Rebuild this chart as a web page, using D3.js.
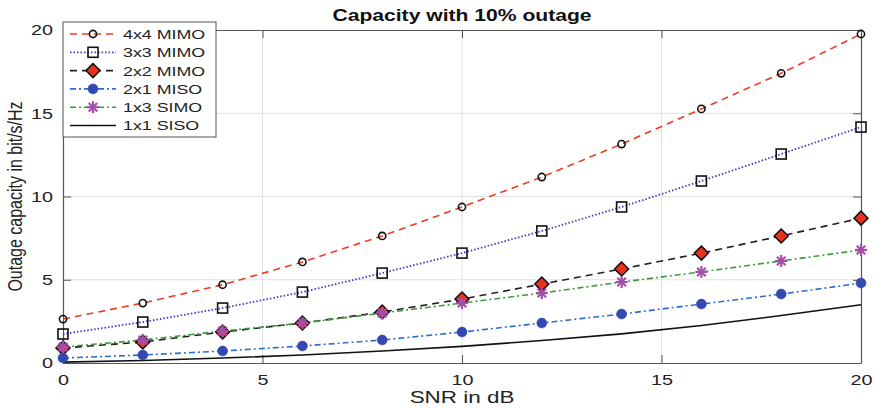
<!DOCTYPE html>
<html>
<head>
<meta charset="utf-8">
<script src="https://cdn.jsdelivr.net/npm/d3@7"></script>
<style>
  html, body { margin: 0; padding: 0; background: #fff; }
  svg { display: block; font-family: "Liberation Sans", Arial, sans-serif; }
</style>
</head>
<body>
<svg id="chart" width="874" height="408"></svg>
<script>
// SNR sweep in dB
const snr = [0, 2, 4, 6, 8, 10, 12, 14, 16, 18, 20];

// 10%-outage capacity in bit/s/Hz for each antenna configuration
const mimo4x4 = [2.64, 3.6, 4.7, 6.07, 7.63, 9.37, 11.17, 13.15, 15.26, 17.4, 19.76];
const mimo3x3 = [1.74, 2.46, 3.3, 4.26, 5.4, 6.6, 7.93, 9.37, 10.93, 12.55, 14.17];
const mimo2x2 = [0.9, 1.26, 1.86, 2.4, 3.06, 3.84, 4.74, 5.65, 6.6, 7.63, 8.7];
const miso2x1 = [0.3, 0.48, 0.72, 1.02, 1.38, 1.86, 2.4, 2.94, 3.54, 4.14, 4.8];
const simo1x3 = [0.96, 1.38, 1.92, 2.4, 3.0, 3.6, 4.2, 4.86, 5.47, 6.13, 6.79];
const siso1x1 = [0.05, 0.15, 0.3, 0.48, 0.72, 1.0, 1.35, 1.75, 2.25, 2.85, 3.5];

const seriesNames = ["4x4 MIMO", "3x3 MIMO", "2x2 MIMO", "2x1 MISO", "1x3 SIMO", "1x1 SISO"];
const seriesValues = [mimo4x4, mimo3x3, mimo2x2, miso2x1, simo1x3, siso1x1];

const xTicks = [0, 5, 10, 15, 20];
const yTicks = [0, 5, 10, 15, 20];

// line + marker styling per series
const styles = [
  { color: "#f03a22", dash: "7,5", width: 1.6, marker: "circle" },
  { color: "#3b3bc8", dash: "1.5,2", width: 1.8, marker: "square" },
  { color: "#222222", dash: "7,5", width: 1.6, marker: "diamond" },
  { color: "#2a6fd0", dash: "6,3,2,3", width: 1.6, marker: "dot" },
  { color: "#3d9a3d", dash: "6,3,2,3", width: 1.6, marker: "star" },
  { color: "#111111", dash: null, width: 1.6, marker: null }
];

// text is drawn slightly widened horizontally
const SX = 1.32;
const widen = (tx, ty) => `translate(${tx},${ty}) scale(${SX},1) translate(${-tx},${-ty})`;

const margin = { left: 63, right: 13, top: 30, bottom: 45 };
const W = 874, H = 408;
const iw = W - margin.left - margin.right;
const ih = H - margin.top - margin.bottom;

const svg = d3.select("#chart");
const g = svg.append("g").attr("transform", `translate(${margin.left},${margin.top})`);

const x = d3.scaleLinear().domain([0, 20]).range([0, iw]);
const y = d3.scaleLinear().domain([0, 20]).range([ih, 0]);

// grid
g.append("g").selectAll("line").data(xTicks.slice(1, -1)).join("line")
  .attr("x1", d => x(d)).attr("x2", d => x(d)).attr("y1", 0).attr("y2", ih)
  .attr("stroke", "#e2e2e2").attr("stroke-width", 1);
g.append("g").selectAll("line").data(yTicks.slice(1, -1)).join("line")
  .attr("y1", d => y(d)).attr("y2", d => y(d)).attr("x1", 0).attr("x2", iw)
  .attr("stroke", "#e2e2e2").attr("stroke-width", 1);

// axes (ticks pointing inward)
const xAxis = g.append("g").attr("transform", `translate(0,${ih})`)
  .call(d3.axisBottom(x).tickValues(xTicks).tickSizeInner(-8).tickSizeOuter(0).tickPadding(11));
const yAxis = g.append("g")
  .call(d3.axisLeft(y).tickValues(yTicks).tickSizeInner(-8).tickSizeOuter(0).tickPadding(10));
const xAxisTop = g.append("g")
  .call(d3.axisTop(x).tickValues(xTicks).tickSizeInner(-8).tickSizeOuter(0).tickFormat(""));
const yAxisRight = g.append("g").attr("transform", `translate(${iw},0)`)
  .call(d3.axisRight(y).tickValues(yTicks).tickSizeInner(-8).tickSizeOuter(0).tickFormat(""));

[xAxis, yAxis, xAxisTop, yAxisRight].forEach(a => {
  a.select(".domain").attr("stroke", "#555").attr("stroke-width", 1.2);
  a.selectAll(".tick line").attr("stroke", "#555");
  a.selectAll("text").attr("font-size", 15).attr("fill", "#222")
    .attr("font-family", "Liberation Sans, Arial, sans-serif");
});
xAxis.selectAll(".tick text").attr("transform", widen(0, 0));
yAxis.selectAll(".tick text").attr("transform", widen(-10, 0));

// lines
const line = d3.line().x((d, i) => x(snr[i])).y(d => y(d));
const plot = g.append("g");

function drawMarker(sel, type, cx, cy) {
  if (type === "circle") {
    sel.append("circle").attr("cx", cx).attr("cy", cy).attr("r", 3.6)
      .attr("fill", "none").attr("stroke", "#111").attr("stroke-width", 1.6);
  } else if (type === "square") {
    sel.append("rect").attr("x", cx - 5).attr("y", cy - 5).attr("width", 10).attr("height", 10)
      .attr("fill", "none").attr("stroke", "#111").attr("stroke-width", 1.6);
  } else if (type === "diamond") {
    sel.append("path").attr("d", `M${cx},${cy - 7}L${cx + 7},${cy}L${cx},${cy + 7}L${cx - 7},${cy}Z`)
      .attr("fill", "#e8321e").attr("stroke", "#111").attr("stroke-width", 1.5);
  } else if (type === "dot") {
    sel.append("circle").attr("cx", cx).attr("cy", cy).attr("r", 5)
      .attr("fill", "#3348b0").attr("stroke", "#3348b0").attr("stroke-width", 0.5);
  } else if (type === "star") {
    const r = 6;
    const gs = sel.append("g").attr("stroke", "#a54ea8").attr("stroke-width", 2.2);
    for (let k = 0; k < 4; k++) {
      const a = k * Math.PI / 4;
      gs.append("line")
        .attr("x1", cx - r * Math.cos(a)).attr("y1", cy - r * Math.sin(a))
        .attr("x2", cx + r * Math.cos(a)).attr("y2", cy + r * Math.sin(a));
    }
  }
}

seriesValues.forEach((vals, si) => {
  const st = styles[si];
  plot.append("path").datum(vals)
    .attr("d", line).attr("fill", "none")
    .attr("stroke", st.color).attr("stroke-width", st.width)
    .attr("stroke-dasharray", st.dash);
});
seriesValues.forEach((vals, si) => {
  const st = styles[si];
  if (!st.marker) return;
  const mg = plot.append("g");
  vals.forEach((v, i) => drawMarker(mg, st.marker, x(snr[i]), y(v)));
});

// legend
const lg = g.append("g").attr("transform", "translate(0,-8)");
lg.append("rect").attr("x", 0).attr("y", 0).attr("width", 153).attr("height", 115)
  .attr("fill", "#fff").attr("stroke", "#555").attr("stroke-width", 1);
seriesNames.forEach((name, i) => {
  const st = styles[i];
  const cy = 12 + i * 18.3;
  lg.append("line").attr("x1", 7).attr("x2", 53).attr("y1", cy).attr("y2", cy)
    .attr("stroke", st.color).attr("stroke-width", st.width)
    .attr("stroke-dasharray", st.dash);
  if (st.marker) drawMarker(lg, st.marker, 30, cy);
  lg.append("text").attr("x", 60).attr("y", cy + 5).attr("font-size", 13.5)
    .attr("transform", widen(60, cy + 5))
    .attr("fill", "#222").text(name);
});

// title and axis labels
const cx = margin.left + iw / 2;
svg.append("text").attr("x", cx).attr("y", 21)
  .attr("transform", widen(cx, 21))
  .attr("text-anchor", "middle").attr("font-size", 16).attr("font-weight", "bold")
  .attr("fill", "#111").text("Capacity with 10% outage");
svg.append("text").attr("x", cx).attr("y", 403)
  .attr("transform", widen(cx, 403))
  .attr("text-anchor", "middle").attr("font-size", 17).attr("fill", "#222").text("SNR in dB");
svg.append("text")
  .attr("transform", `translate(22,${margin.top + ih / 2}) scale(${SX},1) rotate(-90)`)
  .attr("text-anchor", "middle").attr("font-size", 16).attr("fill", "#222")
  .text("Outage capacity in bit/s/Hz");
</script>
</body>
</html>
